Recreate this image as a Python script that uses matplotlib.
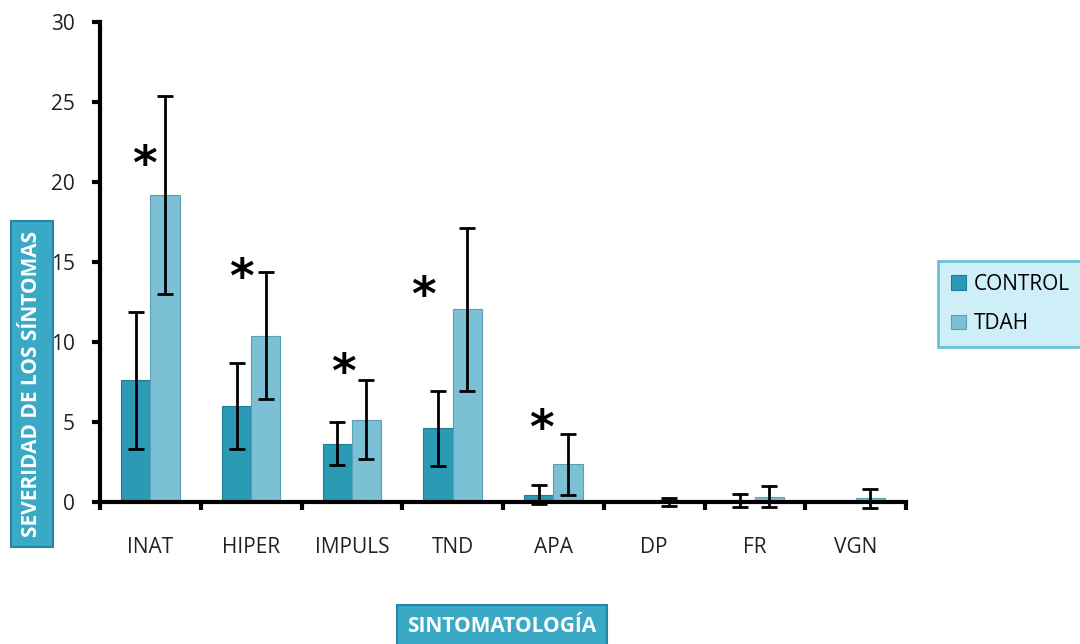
import matplotlib.pyplot as plt
import numpy as np

categories = ['INAT', 'HIPER', 'IMPULS', 'TND', 'APA', 'DP', 'FR', 'VGN']
control = [7.6, 6.0, 3.65, 4.6, 0.45, 0.0, 0.08, 0.0]
control_sd = [4.3, 2.7, 1.35, 2.35, 0.6, 0.0, 0.42, 0.0]
tdah = [19.2, 10.4, 5.15, 12.05, 2.35, 0.0, 0.32, 0.22]
tdah_sd = [6.2, 3.95, 2.45, 5.1, 1.9, 0.25, 0.65, 0.6]
star_y = [21.0, 13.9, 8.0, 12.8, 4.5]  # significant categories (first five)

plt.rcParams['font.family'] = ['Open Sans', 'DejaVu Sans']

fig = plt.figure(figsize=(10.8, 6.44), dpi=100)
ax = fig.add_axes([100 / 1080, 1 - 502 / 644, 806 / 1080, 480 / 644])

x = np.arange(len(categories))
w = 0.29
c_ctrl = '#2b9ab4'
c_tdah = '#7cc0d6'

ax.bar(x - w / 2, control, w, color=c_ctrl, edgecolor='#1f7d93', linewidth=0.8, label='CONTROL')
ax.bar(x + w / 2, tdah, w, color=c_tdah, edgecolor='#5a9fb5', linewidth=0.8, label='TDAH')

err_kw = dict(fmt='none', ecolor='black', elinewidth=2, capsize=5.5, capthick=2, zorder=6)
ctrl_idx = [i for i, s in enumerate(control_sd) if s > 0]
eb1 = ax.errorbar(x[ctrl_idx] - w / 2, np.array(control)[ctrl_idx],
                  yerr=np.array(control_sd)[ctrl_idx], **err_kw)
eb2 = ax.errorbar(x + w / 2, tdah, yerr=tdah_sd, **err_kw)
for eb in (eb1, eb2):
    for art in eb.lines[1] + eb.lines[2]:
        art.set_clip_on(False)

star_dx = [-0.06, -0.1, -0.08, -0.29, -0.12]
for i, ys in enumerate(star_y):
    ax.text(x[i] + star_dx[i], ys, '*', fontsize=34, fontweight='bold',
            ha='center', va='center', family='DejaVu Sans')

ax.set_xlim(-0.5, len(categories) - 0.5)
ax.set_ylim(0, 30)
ax.set_yticks([0, 5, 10, 15, 20, 25, 30])
ax.set_xticks(np.arange(-0.5, len(categories)), minor=False)
ax.set_xticklabels([])
ax.set_xticks(x, minor=True)
ax.set_xticklabels(categories, minor=True)
ax.tick_params(axis='x', which='minor', length=0, pad=25, labelsize=15, colors='#222222')
ax.tick_params(axis='x', which='major', length=6, width=3, direction='out')
ax.tick_params(axis='y', length=6, width=3, direction='out', labelsize=15, pad=12,
               colors='black', labelcolor='#222222')

for s in ['top', 'right']:
    ax.spines[s].set_visible(False)
for s in ['left', 'bottom']:
    ax.spines[s].set_linewidth(3)
    ax.spines[s].set_zorder(5)

box = dict(boxstyle='square,pad=0.5', facecolor='#3aa9c6', edgecolor='#1f8aa6', linewidth=1.5)
fig.text(32 / 1080, 1 - 384 / 644, 'SEVERIDAD DE LOS SÍNTOMAS', rotation=90, color='white',
         fontsize=15, fontweight='bold', ha='center', va='center', bbox=box)
fig.text(502 / 1080, 1 - 626 / 644, 'SINTOMATOLOGÍA', color='white',
         fontsize=15, fontweight='bold', ha='center', va='center', bbox=box)

leg = ax.legend(loc='center left', bbox_to_anchor=(928 / 1080, 1 - 304 / 644),
                bbox_transform=fig.transFigure, fontsize=15, frameon=True,
                fancybox=False, handlelength=0.7, handleheight=0.7, handletextpad=0.4,
                labelspacing=0.9, borderpad=0.6)
leg.get_frame().set_facecolor('#c2ecf7')
leg.get_frame().set_edgecolor('#4fb3cc')
leg.get_frame().set_linewidth(2)

fig.savefig('out.png', dpi=100)
